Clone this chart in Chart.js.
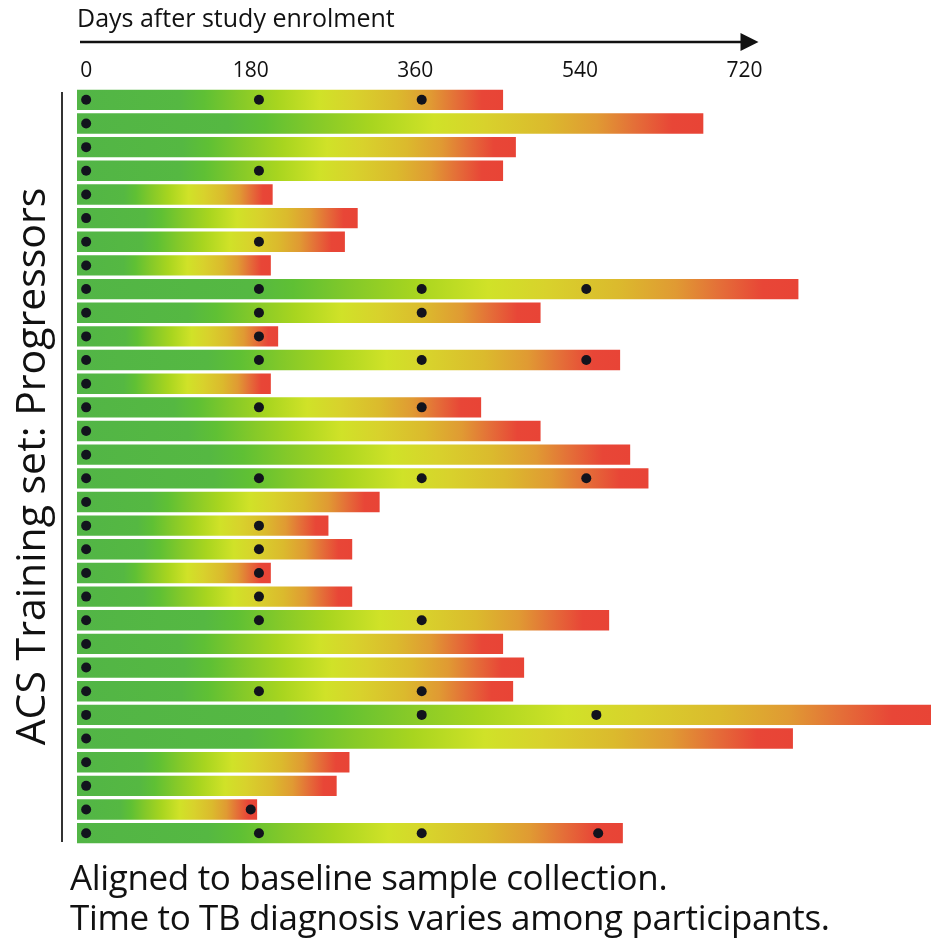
<!DOCTYPE html>
<html>
<head>
<meta charset="utf-8">
<script src="https://cdn.jsdelivr.net/npm/chart.js@4.4.1/dist/chart.umd.min.js"></script>
<style>
  body { margin: 0; background: #fff; }
  #wrap { position: relative; width: 936px; height: 942px; }
  #notes {
    position: absolute; left: 70px; top: 857px;
    font-family: "Open Sans", "Noto Sans", sans-serif;
    font-size: 35px; line-height: 40px; color: #111;
    letter-spacing: -0.35px; white-space: nowrap;
  }
</style>
</head>
<body>
<div id="wrap">
  <canvas id="timeline"></canvas>
  <div id="notes">
    Aligned to baseline sample collection.<br>
    Time to TB diagnosis varies among participants.
  </div>
</div>
<script>
// one row per progressor, top to bottom
const participants = ["1", "2", "3", "4", "5", "6", "7", "8", "9", "10", "11", "12", "13", "14", "15", "16",
  "17", "18", "19", "20", "21", "22", "23", "24", "25", "26", "27", "28", "29", "30", "31", "32"];

// bars begin slightly before day 0 in the figure
const barStartDay = -10;

// day of TB diagnosis (end of each bar)
const diagnosisDay = [456, 675, 470, 456, 204, 297, 283, 202, 779, 497, 210, 584, 202, 432, 497, 595,
  615, 321, 265, 291, 202, 291, 572, 456, 479, 467, 928, 773, 288, 274, 187, 587];

// sample collection visits (null = no sample)
const baselineDay = [0, 0, 0, 0, 0, 0, 0, 0, 0, 0, 0, 0, 0, 0, 0, 0,
  0, 0, 0, 0, 0, 0, 0, 0, 0, 0, 0, 0, 0, 0, 0, 0];
const month6Day = [189, null, null, 189, null, null, 189, null, 189, 189, 189, 189, null, 189, null, null,
  189, null, 189, 189, 189, 189, 189, null, null, 189, null, null, null, null, 180, 189];
const month12Day = [367, null, null, null, null, null, null, null, 367, 367, null, 367, null, 367, null, null,
  367, null, null, null, null, null, 367, null, null, 367, 367, null, null, null, null, 367];
const month18Day = [null, null, null, null, null, null, null, null, 547, null, null, 547, null, null, null, null,
  547, null, null, null, null, null, null, null, null, null, 558, null, null, null, null, 560];

const dayTicks = [0, 180, 360, 540, 720];

var FONT = '"Open Sans", "Noto Sans", sans-serif';

var samplePoints = [];
[baselineDay, month6Day, month12Day, month18Day].forEach(function (visit) {
  visit.forEach(function (d, i) {
    if (d !== null) samplePoints.push({ x: d, y: participants[i] });
  });
});

var gradStops = [
  [0.0, "#52b546"], [0.24, "#55b842"], [0.3, "#5fc034"], [0.38, "#84c929"],
  [0.47, "#a8d51f"], [0.57, "#d0e228"], [0.65, "#d8d22c"], [0.75, "#dbba2d"],
  [0.83, "#e09a33"], [0.89, "#e46f38"], [0.95, "#e84637"], [1.0, "#e84436"]
];

function barGradient(ctx) {
  var chart = ctx.chart;
  if (!chart.chartArea || ctx.type !== "data") return "#52b546";
  var xs = chart.scales.x;
  var v = ctx.raw;
  var x0 = xs.getPixelForValue(v[0]);
  var x1 = xs.getPixelForValue(v[1]);
  var g = chart.ctx.createLinearGradient(x0, 0, x1, 0);
  gradStops.forEach(function (s) { g.addColorStop(s[0], s[1]); });
  return g;
}

// arrow over the ticks and the bracket line left of the rows
var decorations = {
  id: "decorations",
  afterDraw: function (chart) {
    var c = chart.ctx;
    var area = chart.chartArea;
    var xs = chart.scales.x;
    var arrowEnd = xs.getPixelForValue(720) + 14;
    c.save();
    c.strokeStyle = "#111";
    c.fillStyle = "#111";
    c.lineWidth = 2.5;
    c.beginPath();
    c.moveTo(area.left + 3, 42);
    c.lineTo(arrowEnd - 14, 42);
    c.stroke();
    c.beginPath();
    c.moveTo(arrowEnd, 42);
    c.lineTo(arrowEnd - 18, 33);
    c.lineTo(arrowEnd - 18, 51);
    c.closePath();
    c.fill();
    c.lineWidth = 2;
    c.strokeStyle = "#333";
    c.beginPath();
    c.moveTo(62, area.top + 4);
    c.lineTo(62, area.bottom - 3);
    c.stroke();
    c.restore();
  }
};

new Chart(document.getElementById("timeline"), {
  type: "bar",
  data: {
    labels: participants,
    datasets: [
      {
        type: "scatter",
        label: "Samples",
        data: samplePoints,
        pointRadius: 5,
        pointHoverRadius: 5,
        pointBackgroundColor: "#12131d",
        pointBorderWidth: 0,
        order: 0
      },
      {
        label: "Time to diagnosis",
        data: diagnosisDay.map(function (d) { return [barStartDay, d]; }),
        backgroundColor: barGradient,
        borderWidth: 0,
        borderSkipped: false,
        barPercentage: 0.86,
        categoryPercentage: 1.0,
        order: 1
      }
    ]
  },
  options: {
    indexAxis: "y",
    responsive: true,
    maintainAspectRatio: false,
    animation: false,
    layout: { padding: { left: 0, right: 0, top: 0, bottom: 97 } },
    plugins: {
      legend: { display: false },
      tooltip: { enabled: false }
    },
    scales: {
      x: {
        type: "linear",
        position: "top",
        min: barStartDay,
        max: 924,
        grid: { display: false, drawTicks: false, tickLength: 0 },
        border: { display: false },
        afterBuildTicks: function (scale) {
          scale.ticks = dayTicks.map(function (v) { return { value: v }; });
        },
        afterFit: function (scale) { scale.height = 88; },
        ticks: {
          padding: 4,
          color: "#111",
          font: { family: FONT, size: 21 }
        },
        title: {
          display: true,
          text: "Days after study enrolment",
          align: "start",
          color: "#111",
          font: { family: FONT, size: 25 },
          padding: { top: 5, bottom: 0 }
        }
      },
      y: {
        type: "category",
        offset: true,
        grid: { display: false, drawTicks: false },
        border: { display: false },
        ticks: { display: false },
        afterFit: function (scale) { scale.width = 77; },
        title: {
          display: true,
          text: "ACS Training set: Progressors",
          color: "#111",
          font: { family: FONT, size: 41 },
          padding: { top: 9, bottom: 0 }
        }
      }
    }
  },
  plugins: [decorations]
});
</script>
</body>
</html>
